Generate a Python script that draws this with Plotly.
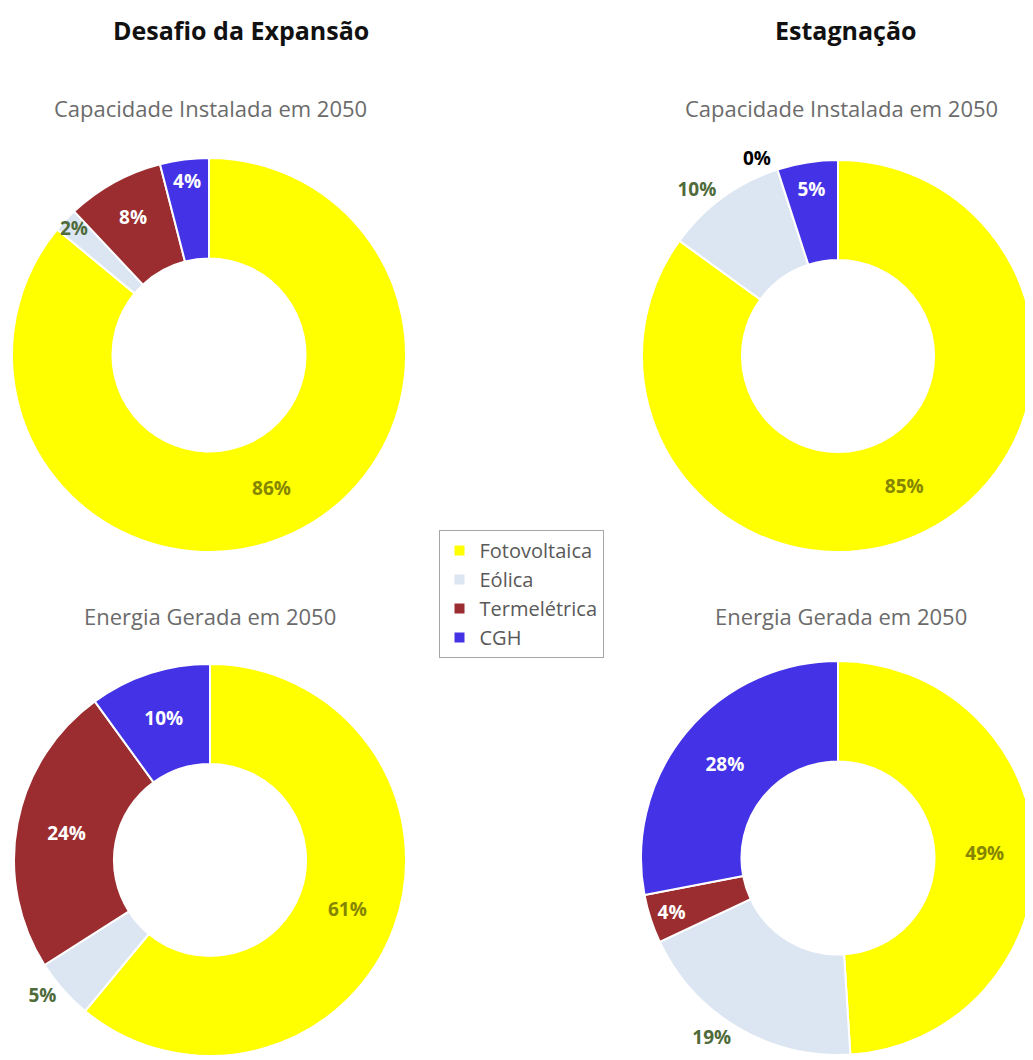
import plotly.graph_objects as go

# ---- data ----
fontes = ["Fotovoltaica", "Eólica", "Termelétrica", "CGH"]
cores = ["#FFFF00", "#DCE6F2", "#9B2D30", "#4433E6"]

desafio_capacidade = [86, 2, 8, 4]
desafio_energia = [61, 5, 24, 10]
estagnacao_capacidade = [85, 10, 0, 5]
estagnacao_energia = [49, 19, 4, 28]

cenarios = ["Desafio da Expansão", "Estagnação"]
subtitulos = ["Capacidade Instalada em 2050", "Energia Gerada em 2050"]

W, H = 1033, 1060
OFF = 8  # page body margin offset
LBL_COLORS = ["#858500", "#4f6b3a", "#ffffff", "#ffffff"]


def px_x(x):
    return (x - OFF) / W


def px_y(y):
    return 1 - (y - OFF) / H


def dom(cx, cy, r):
    return dict(x=[max(px_x(cx - r), 0.0), min(px_x(cx + r), 1.0)],
                y=[max(px_y(cy + r), 0.0), min(px_y(cy - r), 1.0)])


fig = go.Figure()

specs = [
    (desafio_capacidade, dom(209, 355, 197), ["inside"] * 4, LBL_COLORS),
    (estagnacao_capacidade, dom(838, 356, 196), ["inside", "outside", "outside", "inside"],
     ["#858500", "#4f6b3a", "#000000", "#ffffff"]),
    (desafio_energia, dom(210, 860, 196), ["inside", "outside", "inside", "inside"], LBL_COLORS),
    (estagnacao_energia, dom(838, 858, 197), ["inside", "outside", "inside", "inside"], LBL_COLORS),
]

for i, (vals, d, tpos, tcol) in enumerate(specs):
    fig.add_trace(go.Pie(
        labels=fontes,
        values=vals,
        hole=0.49,
        sort=False,
        direction="clockwise",
        rotation=0,
        domain=d,
        marker=dict(colors=cores, line=dict(color="white", width=2)),
        texttemplate="%{value}%",
        textposition=tpos,
        insidetextorientation="horizontal",
        textfont=dict(family="Open Sans", size=19, color=tcol, weight="bold"),
        showlegend=(i == 0),
        hoverinfo="label+value",
    ))

annotations = [
    dict(text="<b>" + cenarios[0] + "</b>", x=px_x(241), y=px_y(30)),
    dict(text="<b>" + cenarios[1] + "</b>", x=px_x(845), y=px_y(30)),
]
for a in annotations:
    a.update(xref="paper", yref="paper", showarrow=False, xanchor="center", yanchor="middle",
             font=dict(family="Open Sans", size=25, color="#111111"))

subs = [
    (subtitulos[0], 210, 108),
    (subtitulos[0], 841, 108),
    (subtitulos[1], 210, 616),
    (subtitulos[1], 841, 616),
]
for txt, x, y in subs:
    annotations.append(dict(text=txt, x=px_x(x), y=px_y(y), xref="paper", yref="paper",
                            showarrow=False, xanchor="center", yanchor="middle",
                            font=dict(family="Open Sans", size=22, color="#6b6b6b")))

fig.update_layout(
    width=W, height=H,
    margin=dict(l=0, r=0, t=0, b=0),
    paper_bgcolor="white",
    plot_bgcolor="white",
    annotations=annotations,
    uniformtext=dict(minsize=19, mode="show"),
    legend=dict(
        x=px_x(521), y=px_y(594), xanchor="center", yanchor="middle",
        bordercolor="#a6a6a6", borderwidth=1, bgcolor="white",
        font=dict(family="Open Sans", size=20, color="#595959"),
        itemwidth=30, tracegroupgap=0,
    ),
)

fig.write_html("out.html")
